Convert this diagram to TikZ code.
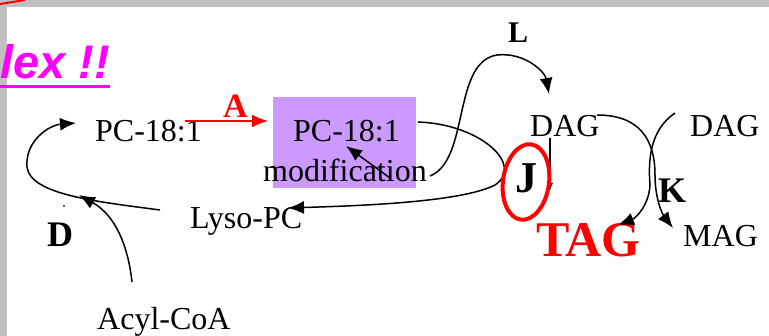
\documentclass[tikz,border=0pt]{standalone}
\usepackage{fontspec}
\setmainfont{Liberation Serif}
\newfontfamily\arialf{Liberation Sans}
\usetikzlibrary{arrows.meta}
\definecolor{boxpurple}{HTML}{CC99FF}
\definecolor{bordergray}{HTML}{C0C0C0}
\definecolor{magentax}{HTML}{FF00FF}
\begin{document}
\begin{tikzpicture}[x=1pt,y=-1pt,
  lbl/.style={inner sep=0pt,anchor=base west,font=\fontsize{32}{36}\selectfont},
  blbl/.style={inner sep=0pt,anchor=base west,font=\fontsize{34}{38}\selectfont\bfseries},
  conn/.style={line width=1.5pt,-{Latex[length=16pt,width=13pt]}},
]
\useasboundingbox (0,0) rectangle (769,336);
\fill[white] (0,0) rectangle (769,336);
\fill[bordergray] (0,0) rectangle (769,7);
\fill[bordergray] (0,0) rectangle (7,336);
\draw[red,line width=2pt] (0,4) -- (25,0);
% title fragment
\node[inner sep=0pt,anchor=base west,text=magentax,font=\arialf\fontsize{47}{52}\selectfont\bfseries\itshape] (title) at (0,79) {lex !!};
\draw[magentax,line width=3pt] (0,87) -- (110,87);
% box
\fill[boxpurple] (273,97) rectangle (416,188);
% texts
\node[lbl] (pc1) at (95,142) {PC-18:1};
\node[lbl] (pc2) at (293,142) {PC-18:1};
\node[lbl] (mod) at (263,182) {modification};
\node[lbl] (lyso) at (190,229) {Lyso-PC};
\node[lbl] (acyl) at (97,330) {Acyl-CoA};
\node[lbl] (dag1) at (530,137) {DAG};
\node[lbl] (dag2) at (690,137) {DAG};
\node[lbl] (mag) at (683,247) {MAG};
\node[blbl,text=red] (A) at (223,118) {A};
\node[blbl,font=\fontsize{30}{34}\selectfont\bfseries] (L) at (508,43) {L};
\node[blbl,font=\fontsize{44}{48}\selectfont\bfseries] (J) at (515,193) {J};
\node[blbl,font=\fontsize{36}{40}\selectfont\bfseries] (K) at (658,203) {K};
\node[blbl,font=\fontsize{36}{40}\selectfont\bfseries] (D) at (47,247) {D};
\node[blbl,text=red,font=\fontsize{50}{54}\selectfont\bfseries] (tag) at (536,257) {TAG};
\fill (64,206) circle (1pt);
% coordinates
\coordinate (aS) at (185,121);
\coordinate (aE) at (268,121);
\coordinate (mS) at (390,178);
\coordinate (mE) at (346,146);
\coordinate (lS) at (430,176);
\coordinate (lE) at (549,94);
\coordinate (bS) at (418,122);
\coordinate (bE) at (288,208);
\coordinate (jS) at (550,138);
\coordinate (jE) at (550,191);
\coordinate (k1S) at (597,115);
\coordinate (k1E) at (673,228);
\coordinate (k2S) at (675,113);
\coordinate (k2E) at (618,225);
\coordinate (dS) at (160,210);
\coordinate (dE) at (76,123);
\coordinate (cS) at (132,282);
\coordinate (cE) at (79,195);
% connectors
\draw[conn,red] (aS) -- (aE);
\draw[conn] (mS) -- (mE);
\draw[conn] (lS) .. controls (470,160) and (452,62) .. (497,55) .. controls (525,52) and (545,72) .. (lE);
\draw[conn] (bS) .. controls (480,124) and (525,165) .. (495,185) .. controls (460,203) and (350,206) .. (bE);
\draw[line width=1.5pt,-{Latex[length=8pt,width=6pt]}] (jS) -- (jE);
\draw[conn] (k1S) .. controls (640,115) and (655,140) .. (655,175) .. controls (655,200) and (663,215) .. (k1E);
\draw[conn] (k2S) .. controls (650,130) and (648,160) .. (650,185) .. controls (649,205) and (636,218) .. (k2E);
\draw[conn] (dS) .. controls (100,202) and (30,195) .. (27,167) .. controls (25,140) and (50,125) .. (dE);
\draw[conn] (cS) .. controls (128,245) and (115,215) .. (cE);
% red ellipse
\draw[red,line width=4pt,rotate around={-8:(526,182)}] (526,182) ellipse [x radius=23, y radius=38];
\end{tikzpicture}
\end{document}
